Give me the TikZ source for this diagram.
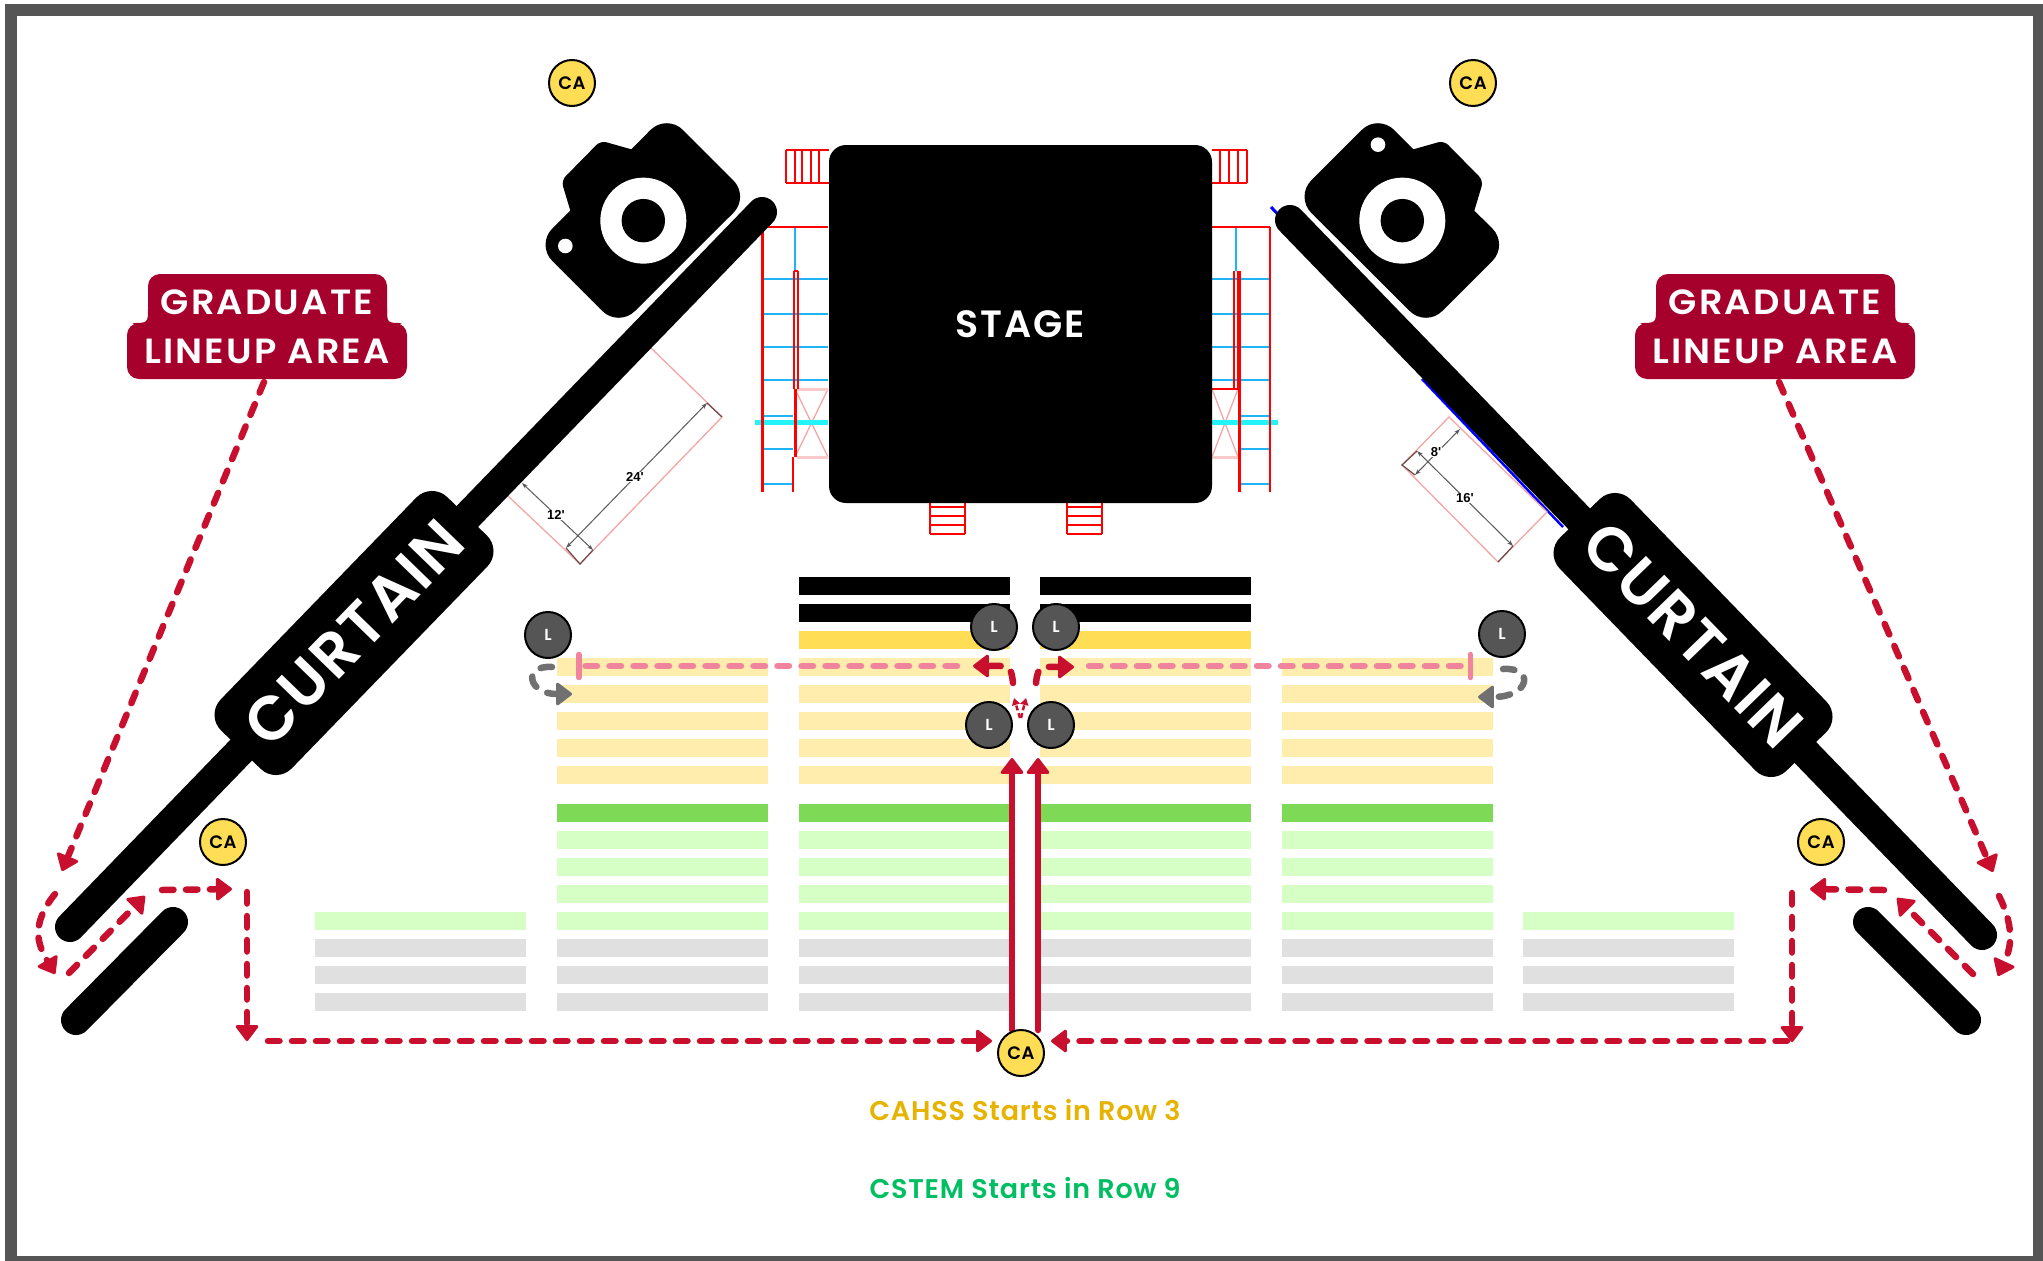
\documentclass[tikz,border=0pt]{standalone}
\usepackage{fontspec}
\setmainfont{Poppins}
\newfontfamily\semi{Poppins SemiBold}
\newfontfamily\dimfont{Liberation Sans}
\usetikzlibrary{arrows.meta}
\definecolor{frameg}{HTML}{555555}
\definecolor{crim}{HTML}{C8102E}
\definecolor{wine}{HTML}{A6002C}
\definecolor{gold}{HTML}{FFDD55}
\definecolor{paley}{HTML}{FFEDAD}
\definecolor{greend}{HTML}{7ED957}
\definecolor{greenl}{HTML}{D5FFC4}
\definecolor{grayrow}{HTML}{E0E0E0}
\definecolor{rose}{HTML}{F0849C}
\definecolor{gtrack}{HTML}{707070}
\definecolor{skyb}{HTML}{1EB4F5}
\definecolor{stair}{HTML}{FF0000}
\definecolor{pinkl}{HTML}{F4A6A6}
\definecolor{cahss}{HTML}{E6B400}
\definecolor{cstem}{HTML}{00BF63}
\definecolor{cyanb}{HTML}{22F4FA}
\tikzset{
  circ/.style={circle,draw=black,line width=2pt,minimum size=46pt,inner sep=0pt},
  cacirc/.style={circ,fill=gold,text=black,font=\semi\fontsize{18}{18}\selectfont\addfontfeature{LetterSpace=3}},
  lcirc/.style={circ,fill=frameg,text=white,font=\semi\fontsize{16}{16}\selectfont},
  curtainrail/.style={line width=30pt,line cap=round,black},
  curtainbox/.style={fill=black,text=white,rounded corners=22pt,minimum width=325pt,minimum height=99pt,inner sep=0pt,font=\semi\fontsize{62}{62}\selectfont\addfontfeature{LetterSpace=3}},
  glabel/.style={text=white,xscale=1.05,font=\semi\fontsize{35}{35}\selectfont\addfontfeature{LetterSpace=6},inner sep=0pt},
  route/.style={crim,line width=6.5pt,line cap=round,dash pattern=on 11.5pt off 12.5pt,
     -{Triangle[round,length=17pt,width=25pt,line width=3pt]}},
  stem/.style={crim,line width=6.5pt,line cap=round,-{Triangle[round,length=17pt,width=25pt,line width=3pt]}},
  tiny/.style={crim,line width=2.5pt,dash pattern=on 5pt off 3pt,-{Triangle[length=7pt,width=8pt]}},
  pinkrt/.style={rose,line width=6.5pt,line cap=round,dash pattern=on 11.5pt off 12.5pt,-{Bar[width=23pt,line width=5.5pt,round]}},
  grayrt/.style={gtrack,line width=6.5pt,line cap=round,dash pattern=on 11.5pt off 12.5pt,
     -{Triangle[round,length=17pt,width=25pt,line width=3pt]}},
  redthin/.style={stair,line width=2pt},
  redthick/.style={stair,line width=3pt},
  bluer/.style={skyb,line width=2pt},
  cyanr/.style={cyanb,line width=5pt},
  pinkbox/.style={pinkl,line width=1.3pt},
  dimline/.style={black!65,line width=1pt,{Stealth[length=6pt,width=4pt]}-{Stealth[length=6pt,width=4pt]}},
  dimdark/.style={black!55!pinkl,line width=1.2pt},
  dimtext/.style={font=\dimfont\bfseries\fontsize{13}{13}\selectfont,fill=white,inner sep=0.5pt},
  note/.style={font=\semi\fontsize{27}{27}\selectfont\addfontfeature{LetterSpace=3},inner sep=0pt},
}
\begin{document}
\begin{tikzpicture}[x=1pt,y=-1pt]
\path[use as bounding box,fill=white] (0,0) rectangle (2043,1261);
\draw[frameg,line width=12pt] (11,10) rectangle (2039,1262);

% seat rows
\foreach \c in {799,1040}{
  \fill[black] (\c,577) rectangle +(211,18);
  \fill[black] (\c,604) rectangle +(211,18);
  \fill[gold] (\c,631) rectangle +(211,18);
}
\foreach \c in {557,799,1040,1282}{
  \foreach \r in {658,685,712,739,766}{\fill[paley] (\c,\r) rectangle +(211,18);}
  \fill[greend] (\c,804) rectangle +(211,18);
  \foreach \r in {831,858,885}{\fill[greenl] (\c,\r) rectangle +(211,18);}
}
\foreach \c in {315,557,799,1040,1282,1523}{
  \fill[greenl] (\c,912) rectangle +(211,18);
  \foreach \r in {939,966,993}{\fill[grayrow] (\c,\r) rectangle +(211,18);}
}

% left pad
\draw[pinkbox] (508,496) -- (580,564) -- (722,417) -- (651,348);
\draw[dimline] (522,483) -- (593,550);
\draw[dimline] (707,403) -- (566,548);
\draw[dimdark] (566,548) -- (580,564) -- (593,550);
\draw[dimdark] (707,403) -- (722,417);
\node[dimtext] (d12) at (556,515) {12'};
\node[dimtext] (d24) at (635,477) {24'};
% right pad
\draw[blue,line width=2.5pt] (1422,379) -- (1563,527);
\draw[blue,line width=3pt] (1271,207) -- (1285,222);
\draw[pinkbox] (1449,417) -- (1402,465) -- (1498,562) -- (1547,512) -- cycle;
\draw[dimline] (1460,429) -- (1415,475);
\draw[dimline] (1417,451) -- (1513,546);
\draw[dimdark] (1417,451) -- (1402,465) -- (1415,475);
\draw[dimdark] (1513,546) -- (1498,562);
\node[dimtext] (d8) at (1436,452) {8'};
\node[dimtext] (d16) at (1465,498) {16'};

% stairs: top and bottom
\foreach \v in {786,795,802,811,819}{\draw[redthin] (\v,150) -- (\v,183);}
\draw[redthin] (786,150) -- (829,150) (786,183) -- (829,183);
\foreach \v in {1220,1229,1238,1247}{\draw[redthin] (\v,150) -- (\v,183);}
\draw[redthin] (1212,150) -- (1247,150) (1212,183) -- (1247,183);
\foreach \s in {930,1067}{
  \draw[redthin] (\s,503) -- (\s,534) (\s+34.5,503) -- (\s+34.5,534);
  \foreach \h in {507,516,525,534}{\draw[redthin] (\s,\h) -- (\s+34.5,\h);}
}
% side structures
\foreach \h in {279,314,347,380}{
  \draw[bluer] (762,\h) -- (828,\h);
  \draw[bluer] (1212,\h) -- (1270,\h);
}
\foreach \h in {416,449,484}{
  \draw[bluer] (762,\h) -- (793,\h);
  \draw[bluer] (1240,\h) -- (1270,\h);
}
\draw[bluer] (795,227) -- (795,271);
\draw[bluer] (1236,227) -- (1236,271);
\draw[pinkbox] (795,389) -- (828,457) (795,457) -- (828,389);
\draw[pinkbox] (1212,457) -- (1238,389) (1212,389) -- (1238,457);
\draw[pinkl!60,line width=3pt] (797,389) -- (828,389) (797,457) -- (828,457) (1212,457) -- (1238,457);
\draw[cyanr] (755,422) -- (828,422);
\draw[cyanr] (1212,422) -- (1278,422);
\draw[redthick] (762,227) -- (762,492);
\draw[redthin] (762,227) -- (828,227);
\draw[redthin] (793.5,271) -- (793.5,389) (798,271) -- (798,389) (793.5,271) -- (798,271);
\draw[redthick] (795,389) -- (795,457);
\draw[redthin] (793,457) -- (793,492);
\draw[redthin] (1270,227) -- (1270,492);
\draw[redthin] (1212,227) -- (1270,227);
\draw[redthin] (1234,271) -- (1234,389) (1238,271) -- (1238,389);
\draw[redthin] (1212,389) -- (1238,389);
\draw[redthick] (1239,271) -- (1239,492);

% stage
\node[fill=black,text=white,rounded corners=17pt,minimum width=383pt,minimum height=358pt,inner sep=0pt,
  font=\semi\fontsize{38}{38}\selectfont\addfontfeature{LetterSpace=5}] (stage) at (1020.5,324) {STAGE};

% curtains
\coordinate (lrailA) at (762,212); \coordinate (lrailB) at (70,927);
\coordinate (lshortA) at (173,922); \coordinate (lshortB) at (76,1020);
\coordinate (rrailA) at (1290,220); \coordinate (rrailB) at (1982,935);
\coordinate (rshortA) at (1868,922); \coordinate (rshortB) at (1966,1020);
\draw[curtainrail] (lrailA) -- (lrailB);
\draw[curtainrail] (lshortA) -- (lshortB);
\draw[curtainrail] (rrailA) -- (rrailB);
\draw[curtainrail] (rshortA) -- (rshortB);
\node[curtainbox,rotate=45.9] (curtL) at (354,633) {CURTAIN};
\node[curtainbox,rotate=-45.9] (curtR) at (1693,635) {CURTAIN};

% cameras
\begin{scope}[shift={(518,40)},x=0.3333pt,y=-0.3333pt]
  \fill[black] (157,512) [rounded corners=6pt] -- (130,422) -- (248,302) [sharp corners] -- (340,328)
     [rounded corners=23pt] -- (446,221) -- (695,470) -- (302,862) -- (54,614) [sharp corners] -- cycle;
  \fill[white] (376,542) circle[radius=43pt];
  \fill[black] (376,542) circle[radius=21.7pt];
  \fill[white] (142,618) circle[radius=7.3pt];
\end{scope}
\begin{scope}[shift={(1281,40)},x=0.3333pt,y=-0.3333pt]
  \fill[black] (580,512) [rounded corners=6pt] -- (607,422) -- (489,302) [sharp corners] -- (397,328)
     [rounded corners=23pt] -- (291,221) -- (42,470) -- (435,862) -- (683,614) [sharp corners] -- cycle;
  \fill[white] (364,542) circle[radius=43pt];
  \fill[black] (364,542) circle[radius=21.7pt];
  \fill[white] (291,314) circle[radius=7.3pt];
\end{scope}

% lineup labels
\foreach \dx/\nm in {0/L,1508/R}{
\begin{scope}[shift={(\dx,0)}]
  \fill[wine,rounded corners=12pt] (148,274) rectangle (387,335);
  \fill[wine,rounded corners=12pt] (127,323) rectangle (407,379);
  \fill[wine] (148,308) .. controls (148,323) .. (132,323) -- (148,330) -- cycle;
  \fill[wine] (387,308) .. controls (387,323) .. (402,323) -- (387,330) -- cycle;
  \node[glabel] (gradA\nm) at (267,302) {GRADUATE};
  \node[glabel] (gradB\nm) at (267,351) {LINEUP AREA};
\end{scope}
}

% route end points
\coordinate (a1s) at (264,382); \coordinate (a1e) at (62,871);
\coordinate (a2s) at (55,894); \coordinate (a2e) at (55,974);
\coordinate (a3s) at (69,973); \coordinate (a3e) at (145,896);
\coordinate (a4s) at (162,890); \coordinate (a4e) at (232,889);
\coordinate (a5s) at (247,892); \coordinate (a5e) at (247,1041);
\coordinate (a6s) at (268,1041); \coordinate (a6e) at (992,1041);
\coordinate (b1s) at (1779,382); \coordinate (b1e) at (1993,872);
\coordinate (b2s) at (1999,896); \coordinate (b2e) at (1998,976);
\coordinate (b3s) at (1973,974); \coordinate (b3e) at (1897,898);
\coordinate (b4s) at (1884,890); \coordinate (b4e) at (1810,889);
\coordinate (b5s) at (1792,893); \coordinate (b5e) at (1792,1042);
\coordinate (b6s) at (1787,1041); \coordinate (b6e) at (1051,1041);
\coordinate (u1s) at (1012,1030); \coordinate (u1e) at (1012,758);
\coordinate (u2s) at (1038,1030); \coordinate (u2e) at (1038,758);
\coordinate (t1s) at (1020,718); \coordinate (t1e) at (1014,698);
\coordinate (t2s) at (1021,718); \coordinate (t2e) at (1026,698);
\coordinate (c1s) at (1013,683); \coordinate (c1e) at (973,666);
\coordinate (c2s) at (1036,683); \coordinate (c2e) at (1074,667);
\coordinate (p1s) at (957,666); \coordinate (p1e) at (576,666);
\coordinate (p2s) at (1089,666); \coordinate (p2e) at (1473,666);
\coordinate (g1s) at (552,667); \coordinate (g1e) at (572,694);
\coordinate (g2s) at (1503,669); \coordinate (g2e) at (1478,697);

\draw[route] (a1s) -- (a1e);
\draw[route] (a2s) .. controls (30,925) and (38,945) .. (a2e);
\draw[route] (a3s) -- (a3e);
\draw[route] (a4s) -- (a4e);
\draw[route] (a5s) -- (a5e);
\draw[route] (a6s) -- (a6e);
\draw[route] (b1s) -- (b1e);
\draw[route] (b2s) .. controls (2016,930) and (2010,950) .. (b2e);
\draw[route] (b3s) -- (b3e);
\draw[route] (b4s) -- (b4e);
\draw[route] (b5s) -- (b5e);
\draw[route] (b6s) -- (b6e);
\draw[stem] (u1s) -- (u1e);
\draw[stem] (u2s) -- (u2e);
\draw[tiny] (t1s) -- (t1e);
\draw[tiny] (t2s) -- (t2e);
\draw[route] (c1s) .. controls (1011,664) and (1008,666) .. (c1e);
\draw[route] (c2s) .. controls (1038,664) and (1042,667) .. (c2e);
\draw[pinkrt] (p1s) -- (p1e);
\draw[pinkrt] (p2s) -- (p2e);
\draw[grayrt] (g1s) .. controls (522,665) and (528,694) .. (g1e);
\draw[grayrt] (g2s) .. controls (1535,667) and (1530,697) .. (g2e);

% staff markers
\node[cacirc] (ca1) at (572,83) {CA};
\node[cacirc] (ca2) at (1473,83) {CA};
\node[cacirc] (ca3) at (223,842) {CA};
\node[cacirc] (ca4) at (1821,842) {CA};
\node[cacirc] (ca5) at (1021,1053) {CA};
\node[lcirc] (l1) at (994,627) {L};
\node[lcirc] (l2) at (1056,627) {L};
\node[lcirc] (l3) at (989,725) {L};
\node[lcirc] (l4) at (1051,725) {L};
\node[lcirc] (l5) at (548,635) {L};
\node[lcirc] (l6) at (1502,634) {L};

% notes
\node[note,text=cahss] (n1) at (1025,1110) {CAHSS Starts in Row 3};
\node[note,text=cstem] (n2) at (1025,1188) {CSTEM Starts in Row 9};
\end{tikzpicture}
\end{document}
